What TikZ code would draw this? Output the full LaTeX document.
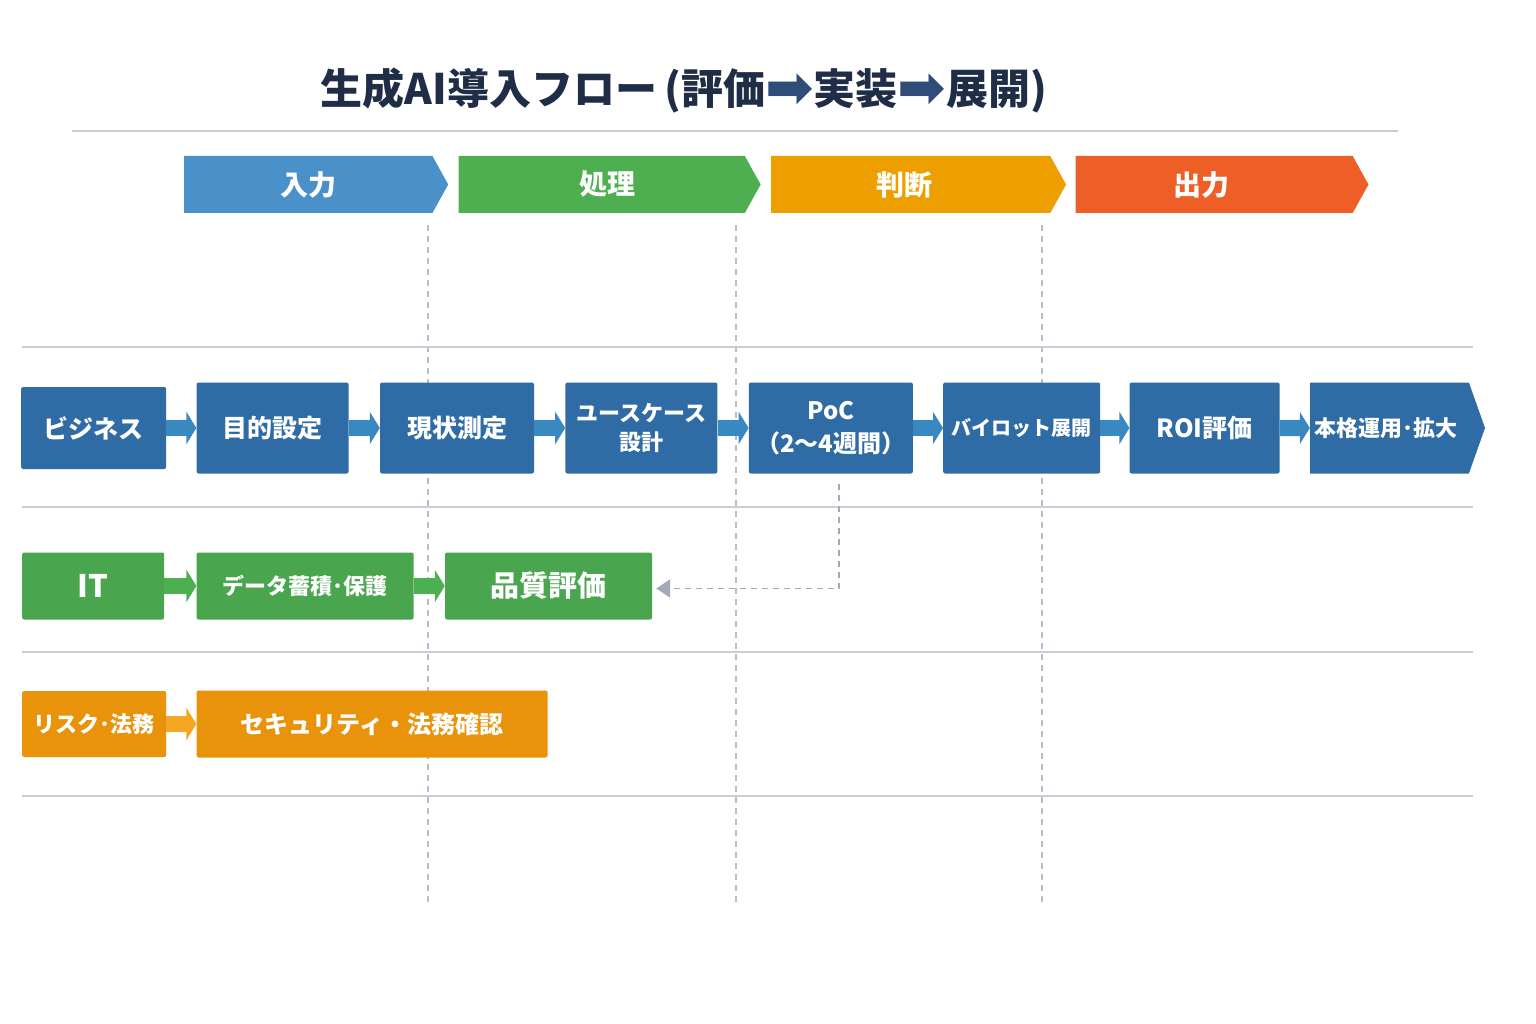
\documentclass[tikz,border=0pt]{standalone}
\usepackage{fontspec}
\setmainfont{Noto Sans CJK JP}
\newfontfamily\symfont{DejaVu Sans}
\usetikzlibrary{positioning,shapes.symbols,arrows.meta}

\definecolor{titlenavy}{HTML}{1F2D47}
\definecolor{titlearrow}{HTML}{2F4D78}
\definecolor{rulegray}{HTML}{C9CDD6}
\definecolor{guidegray}{HTML}{B9BDC7}
\definecolor{loopgray}{HTML}{A3A8B8}
\definecolor{headblue}{HTML}{4A90C9}
\definecolor{headgreen}{HTML}{4DAF50}
\definecolor{headorange}{HTML}{EE9F00}
\definecolor{headred}{HTML}{EE5F28}
\definecolor{bizblue}{HTML}{2F6CA6}
\definecolor{bizarrow}{HTML}{3A88C2}
\definecolor{itgreen}{HTML}{4AA64E}
\definecolor{itarrow}{HTML}{4DB050}
\definecolor{riskorange}{HTML}{E8930A}
\definecolor{riskarrow}{HTML}{F5A623}

\newcommand{\titlearr}{{\color{titlearrow}\symfont\fontsize{58}{58}\selectfont\raisebox{-3pt}{➡}}}

\tikzset{
	lanehead/.style={signal, signal to=east, signal pointer angle=122, minimum height=57pt,
		inner sep=0pt, text=white, font=\bfseries\fontsize{28}{30}\selectfont},
	stepbox/.style={rectangle, rounded corners=2pt, inner sep=2pt, text=white, align=center,
		font=\bfseries\fontsize{25}{29}\selectfont},
	bizbox/.style={stepbox, fill=bizblue, minimum height=91pt},
	itbox/.style={stepbox, fill=itgreen, minimum height=67pt},
	riskbox/.style={stepbox, fill=riskorange, minimum height=66pt},
	flowarr/.style={line width=16pt, -{Triangle[length=10pt,width=32pt]}},
	laneline/.style={draw=rulegray, line width=1.2pt},
	guide/.style={draw=guidegray, line width=1.3pt, dash pattern=on 6pt off 5pt},
	loopback/.style={draw=loopgray, line width=1.8pt, dash pattern=on 6pt off 5pt,
		-{Triangle[length=14pt,width=18pt]}}
}

\begin{document}
\begin{tikzpicture}[x=1pt,y=-1pt]
	\useasboundingbox[fill=white] (0,0) rectangle (1536,1024);

	% title
	\node[text=titlenavy, font=\bfseries\fontsize{42}{46}\selectfont] (title) at (684,90)
		{生成AI導入フロー\,(評価\titlearr 実装\titlearr 展開)};
	\draw[draw=rulegray, line width=1.6pt] (72,131) -- (1398,131);

	% lane guides and row rules
	\foreach \gx in {428,736,1042}
		\draw[guide] (\gx,225) -- (\gx,907);
	\foreach \ry in {347,507,652,796}
		\draw[laneline] (22,\ry) -- (1473,\ry);

	% phase headers
	\node[lanehead, fill=headblue, minimum width=264pt, anchor=west] (hin) at (184,184.5) {入力};
	\node[lanehead, fill=headgreen, minimum width=302pt, right=10pt of hin] (hproc) {\hspace*{12pt}処理};
	\node[lanehead, fill=headorange, minimum width=295pt, right=10pt of hproc] (hjudge) {判断\hspace*{12pt}};
	\node[lanehead, fill=headred, minimum width=293pt, right=9pt of hjudge] (hout) {出力\hspace*{26pt}};

	% business row
	\node[bizbox, minimum width=145pt, minimum height=82pt, anchor=west] (biz) at (21,428) {ビジネス};
	\node[bizbox, minimum width=152pt, right=30pt of biz] (goal) {目的設定};
	\node[bizbox, minimum width=154pt, right=31pt of goal] (asis) {現状測定};
	\node[bizbox, minimum width=152pt, right=31pt of asis, font=\bfseries\fontsize{22}{29}\selectfont] (usecase) {ユースケース\\設計};
	\node[bizbox, minimum width=164pt, right=31pt of usecase, font=\bfseries\fontsize{24}{33}\selectfont] (poc) {PoC\\（2〜4週間）};
	\node[bizbox, minimum width=157pt, right=30pt of poc, font=\bfseries\fontsize{20}{24}\selectfont] (pilot) {バイロット展開};
	\node[bizbox, minimum width=150pt, right=29pt of pilot] (roi) {ROI評価};
	\node[bizbox, signal, signal to=east, signal pointer angle=141, rounded corners=0pt,
		minimum width=175pt, right=30pt of roi, font=\bfseries\fontsize{22}{25}\selectfont] (scale) {本格運用･拡大\hspace*{6pt}};

	\draw[flowarr, bizarrow] (biz) -- (goal);
	\draw[flowarr, bizarrow] (goal) -- (asis);
	\draw[flowarr, bizarrow] (asis) -- (usecase);
	\draw[flowarr, bizarrow] (usecase) -- (poc);
	\draw[flowarr, bizarrow] (poc) -- (pilot);
	\draw[flowarr, bizarrow] (pilot) -- (roi);
	\draw[flowarr, bizarrow] (roi) -- (scale);

	% IT row
	\node[itbox, minimum width=142pt, anchor=west, font=\bfseries\fontsize{31}{33}\selectfont] (it) at (22,586) {IT};
	\node[itbox, minimum width=217pt, right=32pt of it, font=\bfseries\fontsize{22}{25}\selectfont] (data) {データ蓄積･保護};
	\node[itbox, minimum width=207pt, right=31pt of data, font=\bfseries\fontsize{29}{31}\selectfont] (quality) {品質評価};

	\draw[flowarr, itarrow] (it) -- (data);
	\draw[flowarr, itarrow] (data) -- (quality);

	% risk row
	\node[riskbox, minimum width=144pt, anchor=west, font=\bfseries\fontsize{22}{25}\selectfont] (risk) at (22,724) {リスク･法務};
	\node[riskbox, minimum width=351pt, minimum height=67pt, right=30pt of risk, font=\bfseries\fontsize{24}{27}\selectfont] (security) {セキュリティ・法務確認};

	\draw[flowarr, riskarrow] (risk) -- (security);

	% PoC result fed back to quality check
	\draw[loopback] ([xshift=8pt,yshift=-10pt]poc.south) |- ([xshift=4pt,yshift=-2.5pt]quality.east);
\end{tikzpicture}
\end{document}
